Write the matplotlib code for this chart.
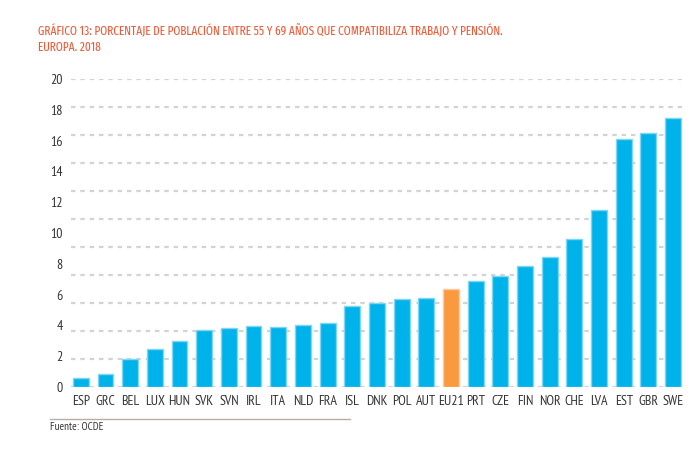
import matplotlib
matplotlib.use("Agg")
import matplotlib.pyplot as plt
import numpy as np
from matplotlib import font_manager

countries = ["ESP", "GRC", "BEL", "LUX", "HUN", "SVK", "SVN", "IRL", "ITA", "NLD", "FRA",
             "ISL", "DNK", "POL", "AUT", "EU21", "PRT", "CZE", "FIN", "NOR", "CHE", "LVA",
             "EST", "GBR", "SWE"]
values = [0.6, 0.85, 1.8, 2.5, 3.0, 3.7, 3.8, 3.95, 3.9, 4.0, 4.15,
          5.25, 5.45, 5.7, 5.8, 6.35, 6.9, 7.2, 7.85, 8.45, 9.6, 11.5,
          16.1, 16.5, 17.5]
highlight = "EU21"
yticks = list(range(0, 21, 2))
title1 = "GRÁFICO 13: PORCENTAJE DE POBLACIÓN ENTRE 55 Y 69 AÑOS QUE COMPATIBILIZA TRABAJO Y PENSIÓN."
title2 = "EUROPA. 2018"
source = "Fuente: OCDE"

names = {f.name for f in font_manager.fontManager.ttflist}
prefs = ["PT Sans Narrow", "Fira Sans Condensed", "Roboto Condensed", "Archivo Narrow",
         "Asap Condensed", "Encode Sans Condensed", "IBM Plex Sans Condensed",
         "Liberation Sans Narrow", "DejaVu Sans"]
fam = next(p for p in prefs if p in names)
tprefs = ["Fira Sans Extra Condensed", "Barlow Condensed", "Saira Condensed",
          "Encode Sans Compressed", "Roboto Condensed", fam]
tfam = next(p for p in tprefs if p in names)
plt.rcParams["font.family"] = [fam, "DejaVu Sans"]

blue = "#00B2EA"
orange = "#F99A3F"
colors = [orange if c == highlight else blue for c in countries]
edges = ["#FFC999" if c == highlight else "#7FD6F4" for c in countries]

fig = plt.figure(figsize=(6.97, 4.58), dpi=100)
ax = fig.add_axes([71 / 697, 1 - 387 / 458, (681.7 - 71) / 697, (387 - 79) / 458])

x = np.arange(len(countries))
for lvl in np.linspace(0, 20, 12):
    ax.axhline(lvl, color="#d3d3d3", lw=1.6, ls=(0, (2, 2.2)), zorder=0)
ax.bar(x, values, width=0.64, color=colors, edgecolor=edges, linewidth=1.0, zorder=2)

ax.set_xlim(-0.4, len(countries) - 1 + 0.35)
ax.set_ylim(0, 20)
ax.set_yticks(yticks)
ax.set_yticklabels([str(t) for t in yticks])
ax.set_xticks(x)
ax.set_xticklabels(countries)
ax.tick_params(axis="both", length=0, labelsize=10, colors="#333333")
ax.tick_params(axis="y", pad=6)
ax.tick_params(axis="x", pad=6)
for s in ax.spines.values():
    s.set_visible(False)

red = "#EC5A37"
t1 = fig.text(38 / 697, 1 - 31 / 458, title1, color=red, fontsize=11.5, va="center", ha="left",
              family=[tfam, "DejaVu Sans"], weight="normal")
t2 = fig.text(38 / 697, 1 - 47.5 / 458, title2, color=red, fontsize=11.5, va="center", ha="left",
              family=[tfam, "DejaVu Sans"], weight="normal")
fig.canvas.draw()
w = t1.get_window_extent().width
fs = min(11.5 * 467.0 / w, 13)
t1.set_fontsize(fs)
t2.set_fontsize(fs)

fig.add_artist(plt.Line2D([50 / 697, 350 / 697], [1 - 418.5 / 458, 1 - 418.5 / 458],
                          color="#b8aea5", lw=1.0, transform=fig.transFigure))
fig.text(50 / 697, 1 - 426.5 / 458, source, color="#333333", fontsize=8, va="center", ha="left")

fig.savefig("out.png", dpi=100)
